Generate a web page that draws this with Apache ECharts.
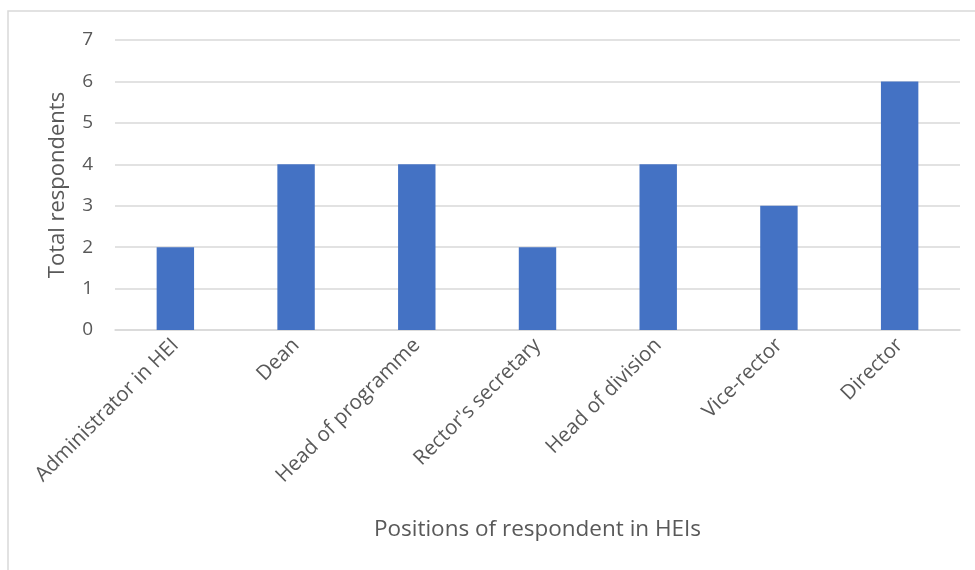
<!DOCTYPE html>
<html>
<head>
<meta charset="utf-8">
<script src="https://cdn.jsdelivr.net/npm/echarts@6/dist/echarts.min.js"></script>
<style>
  html, body { margin: 0; padding: 0; background: #fff; }
  #chart { width: 975px; height: 570px; }
</style>
</head>
<body>
<div id="chart"></div>
<script>
// positions of respondents
var categories = ['Administrator in HEI', 'Dean', 'Head of programme', "Rector's secretary", 'Head of division', 'Vice-rector', 'Director'];
var respondents = [2, 4, 4, 2, 4, 3, 6];
var yTicks = [0, 1, 2, 3, 4, 5, 6, 7];

var myChart = echarts.init(document.getElementById('chart'));

var font = '"Open Sans", "Noto Sans", sans-serif';

var option = {
    animation: false,
    graphic: [{
        type: 'rect',
        shape: { x: 8, y: 11, width: 980, height: 580 },
        style: { fill: 'none', stroke: '#d9d9d9', lineWidth: 1.5 },
        silent: true
    }],
    grid: { left: 115, right: 15, top: 40, bottom: 240 },
    xAxis: {
        type: 'category',
        data: categories,
        name: 'Positions of respondent in HEIs',
        nameLocation: 'middle',
        nameGap: 188,
        nameTextStyle: { fontFamily: font, fontSize: 22.5, color: '#595959' },
        axisLine: { lineStyle: { color: '#d9d9d9', width: 1.5 } },
        axisTick: { show: false },
        axisLabel: { rotate: 45, fontFamily: font, fontSize: 20.5, color: '#595959', margin: 12 }
    },
    yAxis: {
        type: 'value',
        min: yTicks[0],
        max: yTicks[yTicks.length - 1],
        interval: 1,
        name: 'Total respondents',
        nameLocation: 'middle',
        nameGap: 46,
        nameTextStyle: { fontFamily: font, fontSize: 22, color: '#595959' },
        axisLabel: { fontFamily: font, fontSize: 19, color: '#595959', margin: 22 },
        splitLine: { lineStyle: { color: '#d9d9d9', width: 1.5 } }
    },
    series: [{
        type: 'bar',
        data: respondents,
        barWidth: '31%',
        itemStyle: { color: '#4472C4' }
    }]
};

myChart.setOption(option);
</script>
</body>
</html>
